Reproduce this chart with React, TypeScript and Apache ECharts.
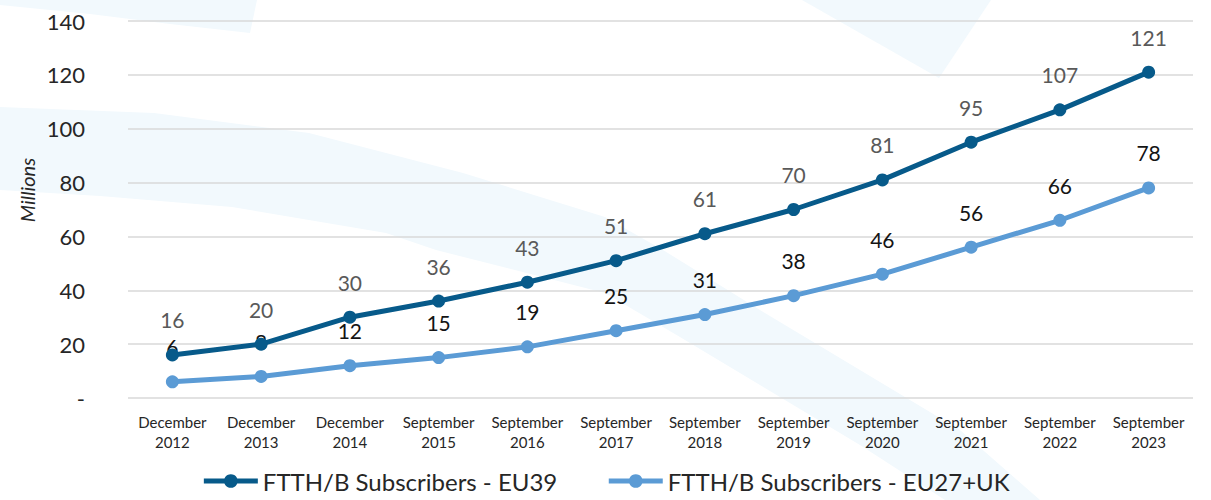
import React, { useEffect, useRef } from "react";
import * as echarts from "echarts";

const categories = [
  "December\n2012", "December\n2013", "December\n2014", "September\n2015",
  "September\n2016", "September\n2017", "September\n2018", "September\n2019",
  "September\n2020", "September\n2021", "September\n2022", "September\n2023",
];
const eu39 = [16, 20, 30, 36, 43, 51, 61, 70, 81, 95, 107, 121];
const eu27uk = [6, 8, 12, 15, 19, 25, 31, 38, 46, 56, 66, 78];
const seriesNames = ["FTTH/B Subscribers - EU39", "FTTH/B Subscribers - EU27+UK"];

const FONT = "Lato, 'Open Sans', sans-serif";
const BG = "#F2F9FD";

export default function App() {
  const ref = useRef<HTMLDivElement>(null);
  useEffect(() => {
    document.body.style.margin = "0";
    const chart = echarts.init(ref.current!, null, { renderer: "svg" });
    chart.setOption({
      animation: false,
      backgroundColor: "#ffffff",
      textStyle: { fontFamily: FONT },
      graphic: [
        {
          type: "polygon", z: -10, silent: true,
          shape: { points: [[0, 0], [257, 0], [250, 33], [170, 24], [90, 14], [0, 5]] },
          style: { fill: BG },
        },
        {
          type: "polygon", z: -10, silent: true,
          shape: { points: [[802, 0], [991, 0], [939, 78]] },
          style: { fill: BG },
        },
        {
          type: "polygon", z: -10, silent: true,
          shape: {
            points: [
              [0, 107], [154, 113], [309, 133], [463, 173], [605, 217], [663, 250],
              [760, 310], [860, 370], [960, 430], [1040, 500],
              [945, 500], [860, 445], [760, 385], [680, 337], [605, 293], [436, 250],
              [386, 233], [232, 207], [100, 196], [0, 190],
            ],
          },
          style: { fill: BG },
        },
        {
          type: "text", silent: true,
          x: 27, y: 190, rotation: Math.PI / 2,
          style: {
            text: "Millions", fill: "#262626", font: `italic 20px ${FONT}`,
            align: "center", verticalAlign: "middle",
          },
        },
      ],
      grid: { left: 128, right: 18, top: 21, bottom: 102 },
      xAxis: {
        type: "category",
        data: categories,
        boundaryGap: true,
        axisLine: { show: false },
        axisTick: { show: false },
        axisLabel: {
          color: "#262626", fontSize: 15, lineHeight: 20, margin: 14, interval: 0,
          fontFamily: FONT,
        },
      },
      yAxis: {
        type: "value",
        min: 0, max: 140, interval: 20,
        axisLine: { show: false },
        axisTick: { show: false },
        splitLine: { lineStyle: { color: "#D9D9D9", width: 1.5 } },
        axisLabel: {
          color: "#262626", fontSize: 22, margin: 43, fontFamily: FONT,
          formatter: (v: number) => (v === 0 ? "-" : String(v)),
        },
      },
      legend: {
        top: 464,
        left: "center",
        itemWidth: 54,
        itemHeight: 17,
        itemGap: 49,
        lineStyle: { width: 5 },
        textStyle: { color: "#262626", fontSize: 24, fontFamily: FONT },
        data: seriesNames,
      },
      series: [
        {
          name: seriesNames[0],
          type: "line",
          data: eu39,
          symbol: "circle",
          symbolSize: 13,
          itemStyle: { color: "#075A8A" },
          lineStyle: { color: "#075A8A", width: 5 },
          label: {
            show: true, position: "top", distance: 18,
            color: "#595959", fontSize: 21, fontFamily: FONT,
          },
          z: 3,
        },
        {
          name: seriesNames[1],
          type: "line",
          data: eu27uk,
          symbol: "circle",
          symbolSize: 13,
          itemStyle: { color: "#5B9BD5" },
          lineStyle: { color: "#5B9BD5", width: 5 },
          label: {
            show: true, position: "top", distance: 18,
            color: "#141414", fontSize: 21, fontFamily: FONT,
          },
          z: 2,
        },
      ],
    });
    return () => chart.dispose();
  }, []);
  return (
    <div
      ref={ref}
      style={{ position: "absolute", left: 0, top: 0, width: 1211, height: 500 }}
    />
  );
}
